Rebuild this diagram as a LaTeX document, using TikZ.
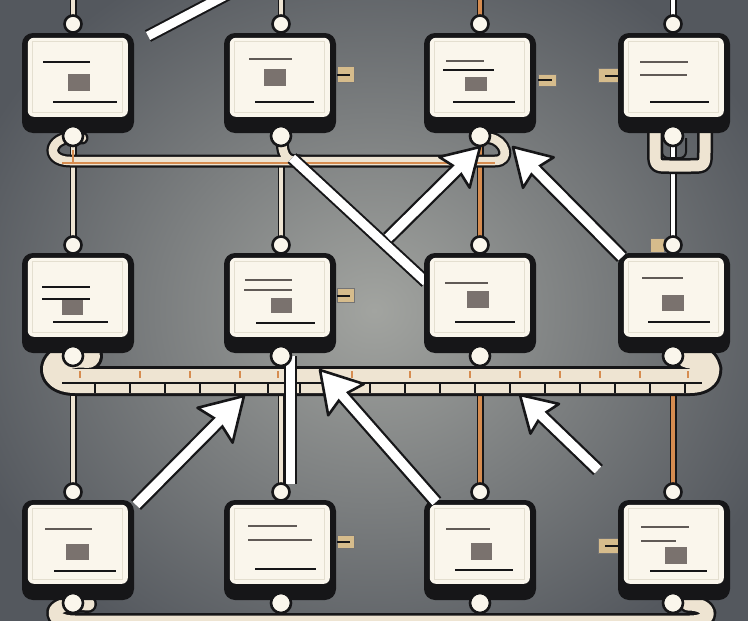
\documentclass[tikz,border=0pt]{standalone}
\usetikzlibrary{calc}
\definecolor{bgc}{RGB}{162,164,160}
\definecolor{bge}{RGB}{84,88,94}
\definecolor{cream}{RGB}{250,246,236}
\definecolor{creamedge}{RGB}{228,223,208}
\definecolor{boxdark}{RGB}{22,22,24}
\definecolor{inkgray}{RGB}{96,90,86}
\definecolor{sqgray}{RGB}{122,114,110}
\definecolor{wireorange}{RGB}{214,140,80}
\definecolor{tubecream}{RGB}{238,228,210}
\definecolor{tabtan}{RGB}{214,188,140}
\tikzset{
  devbox/.style={rectangle, rounded corners=11pt, fill=boxdark, minimum width=112pt, minimum height=100pt, inner sep=0pt},
  pinnode/.style={circle, fill=cream, draw=boxdark, line width=2.6pt, minimum size=17pt, inner sep=0pt},
  wireout/.style={line width=7pt, boxdark},
  wirein/.style={line width=3.4pt, #1},
  inkline/.style={line width=2.6pt, boxdark},
  grayline/.style={line width=2.2pt, inkgray},
  tabpart/.style={fill=tabtan, draw=boxdark!60, line width=0.6pt},
  tubeout/.style={line width=#1, boxdark, line cap=round, line join=round},
  tubein/.style={line width=#1, tubecream, line cap=round, line join=round},
}
\newcommand\boxface[1]{%
  \fill[cream, rounded corners=6pt] ([shift={(6,5)}]#1.north west) rectangle ([shift={(106,84)}]#1.north west);
  \draw[creamedge, line width=1pt] ([shift={(11,9)}]#1.north west) rectangle ([shift={(101,80)}]#1.north west);
}
% #1 tail, #2 tip, #3 wing length
\newcommand\whitearrow[3]{%
  \coordinate (aN) at ($(#2)!0.74*#3!(#1)$);
  \coordinate (aM) at ($(#2)!0.6*#3!(#1)$);
  \draw[line width=14pt, boxdark] (#1) -- (aN);
  \filldraw[fill=white, draw=boxdark, line width=2.6pt, line join=round] (#2) -- ($(#2)!#3!31:(#1)$) -- (aN) -- ($(#2)!#3!-31:(#1)$) -- cycle;
  \draw[line width=9.5pt, white] (#1) -- (aM);
}
\newcommand\whiteshaft[2]{%
  \draw[line width=13pt, boxdark] (#1) -- (#2);
  \draw[line width=9pt, white] (#1) -- (#2);
}
\begin{document}
\begin{tikzpicture}[x=1pt, y=-1pt]
\useasboundingbox (0,0) rectangle (748,621);
\clip (0,0) rectangle (748,621);
\shade[inner color=bgc, outer color=bge] (-60,-80) rectangle (808,701);

% vertical wires
\foreach \cx/\col in {73/tubecream, 281/tubecream, 480/wireorange} {
  \coordinate (vt) at (\cx,-5); \coordinate (vb) at (\cx,626);
  \draw[wireout] (vt) -- (vb);
  \draw[wirein=\col] (vt) -- (vb);
}
\coordinate (v4a) at (673,-5); \coordinate (v4b) at (673,250); \coordinate (v4c) at (673,626);
\draw[wireout] (v4a) -- (v4c);
\draw[wirein=white, line width=4.5pt] (v4a) -- (v4b);
\draw[wirein=wireorange] (v4b) -- (v4c);

% bus row 1
\draw[tubeout=13pt] (82,138) .. controls (50,132) and (42,161) .. (70,161) -- (495,161) .. controls (512,161) and (505,140) .. (490,138);
\draw[tubeout=13pt] (282,138) .. controls (282,161) and (290,161) .. (300,161);
\draw[tubein=8.5pt] (82,138) .. controls (50,132) and (42,161) .. (70,161) -- (495,161) .. controls (512,161) and (505,140) .. (490,138);
\draw[tubein=8.5pt] (282,138) .. controls (282,161) and (290,161) .. (300,161);
\draw[line width=2.2pt, wireorange] (62,163) -- (495,163);
\draw[line width=2pt, wireorange] (73,150) -- (73,163);
% loop under box 14
\draw[tubeout=16pt] (655,133) -- (655,150) .. controls (655,166) .. (670,166) -- (690,166) .. controls (705,166) .. (705,150) -- (705,133);
\draw[tubein=11pt] (655,133) -- (655,150) .. controls (655,166) .. (670,166) -- (690,166) .. controls (705,166) .. (705,150) -- (705,133);
\draw[line width=2pt, boxdark, rounded corners=6pt] (662,138) -- (662,158) -- (686,158) -- (686,138);

% bus row 2
\draw[tubeout=30pt] (88,356) .. controls (48,352) and (45,381) .. (75,381) -- (690,381) .. controls (715,381) and (712,358) .. (688,356);
\draw[tubein=24pt] (88,356) .. controls (48,352) and (45,381) .. (75,381) -- (690,381) .. controls (715,381) and (712,358) .. (688,356);
\draw[line width=2pt, boxdark] (62,383) -- (702,383);
\foreach \tx in {95,130,165,200,235,268,300,335,370,405,440,475,510,545,580,615,650,685} {
  \draw[line width=1.6pt, boxdark] (\tx,384) -- (\tx,393);
}
\foreach \tx in {80,140,190,240,278,352,410,470,520,560,600,640,688} {
  \draw[line width=1.4pt, wireorange] (\tx,371) -- (\tx,378);
}

% bus row 3
\draw[tubeout=18pt] (88,604) .. controls (48,600) and (45,622) .. (75,622) -- (690,622) .. controls (715,622) and (712,604) .. (688,604);
\draw[tubein=13pt] (88,604) .. controls (48,600) and (45,622) .. (75,622) -- (690,622) .. controls (715,622) and (712,604) .. (688,604);

% white strokes behind boxes
\coordinate (s1a) at (148,36); \coordinate (s1b) at (228,-6);
\whiteshaft{s1a}{s1b}
\coordinate (s4a) at (292,158); \coordinate (s4b) at (426,282);
\whiteshaft{s4a}{s4b}
\coordinate (s6a) at (290,356); \coordinate (s6b) at (290,484);
\whiteshaft{s6a}{s6b}

% tabs
\filldraw[tabpart] (337,66) rectangle (354,82); \draw[boxdark, line width=1.2pt] (337,75) -- (350,75);
\filldraw[tabpart] (538,74) rectangle (556,86); \draw[boxdark, line width=1.2pt] (538,80) -- (552,80);
\filldraw[tabpart] (598,68) rectangle (619,82); \draw[boxdark, line width=1.2pt] (605,76) -- (619,76);
\filldraw[tabpart] (337,288) rectangle (354,302); \draw[boxdark, line width=1.2pt] (337,296) -- (350,296);
\filldraw[tabpart] (650,238) rectangle (664,252);
\filldraw[tabpart] (337,535) rectangle (354,548); \draw[boxdark, line width=1.2pt] (337,542) -- (350,542);
\filldraw[tabpart] (598,538) rectangle (619,553); \draw[boxdark, line width=1.2pt] (605,546) -- (619,546);

% boxes
\node[devbox] (b11) at (78,83) {};
\node[devbox] (b12) at (280,83) {};
\node[devbox] (b13) at (480,83) {};
\node[devbox] (b14) at (674,83) {};
\node[devbox] (b21) at (78,303) {};
\node[devbox] (b22) at (280,303) {};
\node[devbox] (b23) at (480,303) {};
\node[devbox] (b24) at (674,303) {};
\node[devbox] (b31) at (78,550) {};
\node[devbox] (b32) at (280,550) {};
\node[devbox] (b33) at (480,550) {};
\node[devbox] (b34) at (674,550) {};
\foreach \b in {b11,b12,b13,b14,b21,b22,b23,b24,b31,b32,b33,b34} { \boxface{\b} }

% box contents
\draw[inkline] (43,62) -- (90,62); \fill[sqgray] (68,74) rectangle (90,91); \draw[inkline] (53,102) -- (117,102);
\draw[grayline] (249,59) -- (292,59); \fill[sqgray] (264,69) rectangle (286,86); \draw[inkline] (255,102) -- (314,102);
\draw[grayline] (446,61) -- (484,61); \draw[inkline] (443,70) -- (494,70); \fill[sqgray] (465,77) rectangle (487,91); \draw[inkline] (453,102) -- (515,102);
\draw[grayline] (640,62) -- (688,62); \draw[grayline] (640,75) -- (687,75); \draw[inkline] (650,102) -- (709,102);
\draw[inkline] (42,287) -- (90,287); \draw[inkline] (42,299) -- (90,299); \fill[sqgray] (62,300) rectangle (83,315); \draw[inkline] (53,322) -- (108,322);
\draw[grayline] (245,280) -- (292,280); \draw[grayline] (244,290) -- (292,290); \fill[sqgray] (271,298) rectangle (292,313); \draw[inkline] (256,323) -- (315,323);
\draw[grayline] (445,283) -- (488,283); \fill[sqgray] (467,291) rectangle (489,308); \draw[inkline] (455,322) -- (515,322);
\draw[grayline] (642,278) -- (683,278); \fill[sqgray] (662,295) rectangle (684,311); \draw[inkline] (648,322) -- (710,322);
\draw[grayline] (45,529) -- (92,529); \fill[sqgray] (66,544) rectangle (89,560); \draw[inkline] (54,571) -- (116,571);
\draw[grayline] (248,526) -- (297,526); \draw[grayline] (248,540) -- (312,540); \draw[inkline] (255,569) -- (316,569);
\draw[grayline] (446,529) -- (490,529); \fill[sqgray] (471,543) rectangle (492,560); \draw[inkline] (455,570) -- (513,570);
\draw[grayline] (641,527) -- (689,527); \draw[grayline] (641,541) -- (676,541); \fill[sqgray] (665,547) rectangle (687,564); \draw[inkline] (650,571) -- (707,571);

% pins
\foreach \cx [count=\i] in {73,281,480,673} {
  \node[pinnode] (t1\i) at (\cx,24) {};
  \node[pinnode, minimum height=20pt] (u1\i) at (\cx,136) {};
  \node[pinnode] (t2\i) at (\cx,245) {};
  \node[pinnode, minimum height=20pt] (u2\i) at (\cx,356) {};
  \node[pinnode] (t3\i) at (\cx,492) {};
  \node[pinnode, minimum height=20pt] (u3\i) at (\cx,603) {};
}

% arrows in front
\coordinate (a2s) at (388,238); \coordinate (a2e) at (480,147);
\whitearrow{a2s}{a2e}{42pt}
\coordinate (a3s) at (622,257); \coordinate (a3e) at (513,147);
\whitearrow{a3s}{a3e}{42pt}
\coordinate (a5s) at (136,505); \coordinate (a5e) at (244,396);
\whitearrow{a5s}{a5e}{48pt}
\coordinate (a7s) at (436,502); \coordinate (a7e) at (320,370);
\whitearrow{a7s}{a7e}{46pt}
\coordinate (a8s) at (598,470); \coordinate (a8e) at (520,395);
\whitearrow{a8s}{a8e}{40pt}
\end{tikzpicture}
\end{document}
